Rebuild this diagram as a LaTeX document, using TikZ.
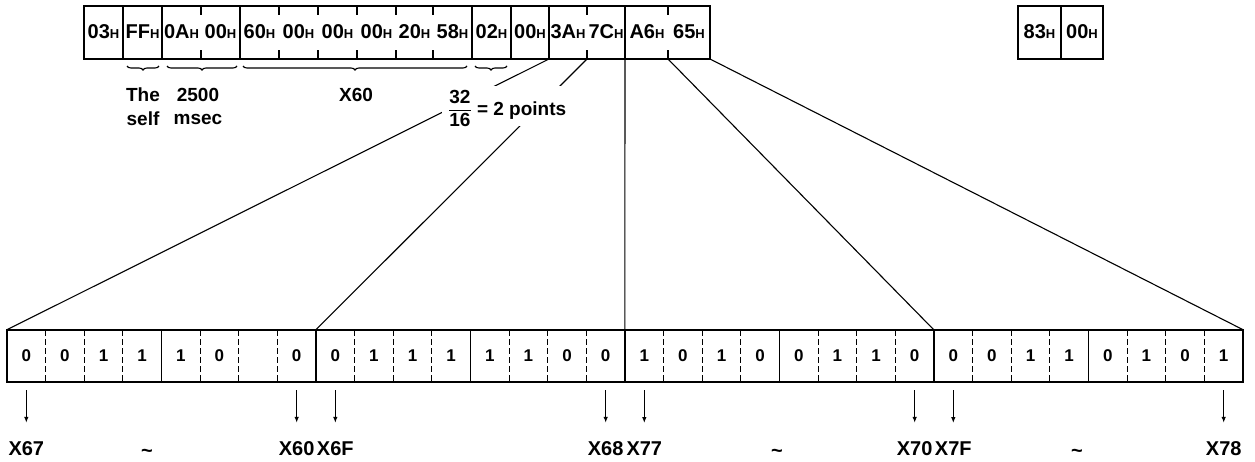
\documentclass[tikz,border=0pt]{standalone}
\usepackage{fontspec}
\setmainfont{Liberation Sans}
\usetikzlibrary{decorations.pathreplacing,arrows.meta}
\newcommand\hx[1]{#1{\fontsize{13}{13}\selectfont H}}
\begin{document}
\begin{tikzpicture}[x=1pt,y=-1pt,
  frame/.style={draw,line width=1.3pt},
  tick/.style={line width=1.3pt},
  dsh/.style={line width=1pt,dash pattern=on 6pt off 3pt},
  conn/.style={line width=1.1pt},
  brc/.style={line width=1.1pt,decorate,decoration={brace,mirror,amplitude=4pt}},
  tcell/.style={inner sep=0pt,anchor=base,font=\fontsize{20}{22}\selectfont\bfseries},
  bit/.style={inner sep=0pt,minimum width=38.6pt,minimum height=52pt,font=\fontsize{17}{19}\selectfont\bfseries},
  lbl/.style={inner sep=0pt,anchor=base,font=\fontsize{20}{22}\selectfont\bfseries},
  note/.style={inner sep=0pt,align=center,font=\fontsize{19}{23.5}\selectfont\bfseries},
  arr/.style={line width=1.1pt,-{Latex[length=6pt,width=4.5pt]}}]
\useasboundingbox (0,0) rectangle (1255,461);

% ---- top row
\foreach \a/\b in {84/123,123/162,162/240,240/472,472/511,511/549,549/625,625/710,1018/1061,1061/1103}
  \draw[frame] (\a,6) rectangle (\b,59);
\foreach \x in {201,279,318,357,396,433,587,668}
  {\draw[tick] (\x,6) -- ++(0,9); \draw[tick] (\x,59) -- ++(0,-9);}
\foreach \x/\t [count=\i] in {103.5/03,142.5/FF,181.5/0A,220.5/00,259.5/60,298.5/00,337.5/00,376.5/00,414.5/20,452.5/58,491.5/02,530/00,568/3A,606/7C,647/A6,689/65,1039.5/83,1082/00}
  \node[tcell] (t\i) at (\x,38) {\hx{\t}};

% braces
\draw[brc] (127,66) -- (159,66);
\draw[brc] (167,66) -- (237,66);
\draw[brc] (243,66) -- (467,66);
\draw[brc] (475,66) -- (507,66);
\node[note,anchor=north] (self) at (143,88) {The\\self};
\node[note,anchor=north] (msec) at (198,88) {2500\\msec};
\node[note,anchor=base] (x60) at (356,101.5) {X60};

% ---- bottom row
\foreach \k in {0,...,7}
  \draw[frame] ({7+154.5*\k},330) rectangle ({7+154.5*(\k+1)},382);
\foreach \j in {1,2,3,5,6,7,9,10,11,13,14,15,17,18,19,21,22,23,25,26,27,29,30,31}
  \draw[dsh] ({7+38.625*\j},330) -- ({7+38.625*\j},382);
\foreach \b [count=\j from 0] in {0,0,1,1,1,0,{},0,0,1,1,1,1,1,0,0,1,0,1,0,0,1,1,0,0,0,1,1,0,1,0,1}
  \node[bit] (b\j) at ({7+38.625*(\j+0.5)},356) {\b};

% ---- connectors top -> bottom
\coordinate (u1) at (549,59);
\coordinate (u2) at (587,59);
\coordinate (u3) at (625,59);
\coordinate (u4) at (668,59);
\coordinate (u5) at (710,59);
\draw[conn] (u1) -- (b0.north west);
\draw[conn] (u2) -- (b8.north west);
\draw[conn] (u3) -- (b16.north west);
\draw[conn] (u4) -- (b24.north west);
\draw[conn] (u5) -- (b31.north east);

\node[inner sep=0pt,fill=white,anchor=base west,minimum height=40pt,text depth=6pt,
      inner xsep=6pt,font=\fontsize{19}{22}\selectfont\bfseries] (frac) at (442,115)
  {$\displaystyle\frac{\mbox{32}}{\mbox{16}}$ = 2 points};

% ---- arrows and labels
\foreach \j/\t in {0/X67,7/X60,8/X6F,15/X68,16/X77,23/X70,24/X7F,31/X78}
  {\node[lbl] (l\j) at ({7+38.625*(\j+0.5)},455) {\t};
   \draw[arr,shorten <=8pt,shorten >=18pt] (b\j.south) -- (l\j.north);}
\node[lbl] (s1) at (147,457) {\textasciitilde};
\node[lbl] (s2) at (777,457) {\textasciitilde};
\node[lbl] (s3) at (1077,457) {\textasciitilde};
\end{tikzpicture}
\end{document}
